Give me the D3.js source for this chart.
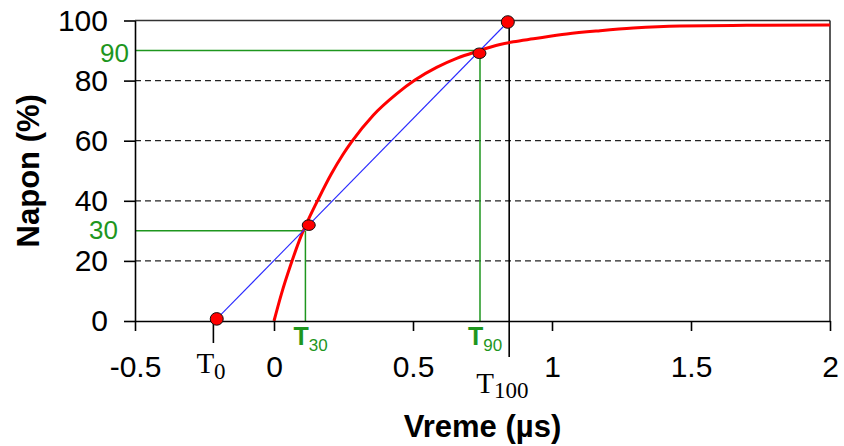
<!DOCTYPE html>
<html>
<head>
<meta charset="utf-8">
<script src="https://cdn.jsdelivr.net/npm/d3@7"></script>
<style>
  html, body { margin: 0; padding: 0; background: #fff; }
  svg { display: block; }
</style>
</head>
<body>
<script>
// Axis ticks
const xTicks = [-0.5, 0, 0.5, 1, 1.5, 2];
const yTicks = [0, 20, 40, 60, 80, 100];
const gridLevels = [20, 40, 60, 80];

// Voltage rise (%) over time (µs)
const curveT = [0, 0.026, 0.062, 0.098, 0.132, 0.158, 0.206, 0.248, 0.279, 0.357, 0.441, 0.507, 0.585, 0.657, 0.729, 0.813, 0.861, 0.933, 1.053, 1.173, 1.292, 1.46, 1.7, 2.0];
const curveV = [0, 8.8, 19.2, 28.4, 35.4, 40.3, 48.9, 55.4, 59.6, 68.5, 75.6, 80.2, 84.4, 87.4, 89.7, 92, 92.9, 93.9, 95.5, 96.6, 97.5, 98.2, 98.4, 98.5];

// Characteristic points (T0, T30, T90, T100)
const markerNames = ["T0", "T30", "T90", "T100"];
const markerT = [-0.206, 0.125, 0.739, 0.841];
const markerV = [0.7, 31.9, 89.1, 99.5];

// Reference levels and the times they are reached
const levelValues = [30, 90];
const levelTimes = [0.113, 0.741];
const levelLabels = ["30", "90"];
const levelSubs = ["30", "90"];

// Virtual origin and 100% time
const t0Time = -0.218;
const t100Time = 0.846;

const W = 844, H = 446;
const svg = d3.select("body").append("svg").attr("width", W).attr("height", H);

const x = d3.scaleLinear().domain([-0.5, 2]).range([135, 830]);
const y = d3.scaleLinear().domain([0, 100]).range([321, 20.5]);

const sans = "'Liberation Sans', Arial, Helvetica, sans-serif";
const serif = "'Liberation Serif', 'Times New Roman', serif";
const green = "#1e961e";

// dashed grid
svg.append("g").selectAll("line").data(gridLevels).join("line")
  .attr("x1", x(-0.5)).attr("x2", x(2))
  .attr("y1", d => y(d)).attr("y2", d => y(d))
  .attr("stroke", "#222").attr("stroke-width", 1.3)
  .attr("stroke-dasharray", "6,4");

// plot frame (top and right)
svg.append("line").attr("x1", x(-0.5)).attr("x2", x(2)).attr("y1", y(100)).attr("y2", y(100))
  .attr("stroke", "#333").attr("stroke-width", 1.5);
svg.append("line").attr("x1", x(2)).attr("x2", x(2)).attr("y1", y(100)).attr("y2", y(0))
  .attr("stroke", "#222").attr("stroke-width", 1.5);

// green level guides
const lv = svg.append("g");
levelValues.forEach((v, i) => {
  lv.append("line").attr("x1", x(-0.5)).attr("x2", x(levelTimes[i]))
    .attr("y1", y(v)).attr("y2", y(v))
    .attr("stroke", green).attr("stroke-width", 1.5);
  lv.append("line").attr("x1", x(levelTimes[i])).attr("x2", x(levelTimes[i]))
    .attr("y1", y(v)).attr("y2", y(0))
    .attr("stroke", green).attr("stroke-width", 1.5);
});

// T100 vertical marker
svg.append("line").attr("x1", x(t100Time)).attr("x2", x(t100Time))
  .attr("y1", y(100)).attr("y2", 357)
  .attr("stroke", "#000").attr("stroke-width", 1.6);

// T0 tick below axis
svg.append("line").attr("x1", x(t0Time)).attr("x2", x(t0Time))
  .attr("y1", y(0)).attr("y2", 343)
  .attr("stroke", "#000").attr("stroke-width", 1.6);

// rise curve
const curveData = curveT.map((t, i) => [t, curveV[i]]);
svg.append("path").datum(curveData)
  .attr("d", d3.line().x(d => x(d[0])).y(d => y(d[1])).curve(d3.curveMonotoneX))
  .attr("fill", "none").attr("stroke", "#ff0000").attr("stroke-width", 3);

// straight line through T0 and T100
svg.append("line")
  .attr("x1", x(markerT[0])).attr("y1", y(markerV[0]))
  .attr("x2", x(markerT[3])).attr("y2", y(markerV[3]))
  .attr("stroke", "#2a2aff").attr("stroke-width", 1.1);

// axes
const xAxis = svg.append("g").attr("transform", `translate(0,${y(0)})`)
  .call(d3.axisBottom(x).tickValues(xTicks).tickSize(10).tickSizeOuter(0).tickPadding(25)
    .tickFormat(d => String(d)));
const yAxis = svg.append("g").attr("transform", `translate(${x(-0.5)},0)`)
  .call(d3.axisLeft(y).tickValues(yTicks).tickSize(11).tickSizeOuter(0).tickPadding(16));
[xAxis, yAxis].forEach(g => {
  g.selectAll("path.domain").attr("stroke", "#000").attr("stroke-width", 1.6);
  g.selectAll(".tick line").attr("stroke", "#000").attr("stroke-width", 1.6);
  g.selectAll("text").attr("font-family", sans).attr("font-size", 30).attr("fill", "#000");
});

// markers
svg.append("g").selectAll("ellipse").data(markerNames).join("ellipse")
  .attr("cx", (d, i) => x(markerT[i])).attr("cy", (d, i) => y(markerV[i]))
  .attr("rx", 6.5).attr("ry", (d, i) => (i === 0 || i === 3) ? 6.3 : 5.3)
  .attr("fill", "#ff0000").attr("stroke", "#111").attr("stroke-width", 1);

// green level labels on the y axis
svg.append("text").attr("x", x(-0.5) - 6).attr("y", y(90) + 2.5).attr("dy", "0.35em")
  .attr("text-anchor", "end").attr("font-family", sans).attr("font-size", 26).attr("fill", green)
  .text(levelLabels[1]);
svg.append("text").attr("x", x(-0.5) - 17).attr("y", y(30) - 1.3).attr("dy", "0.35em")
  .attr("text-anchor", "end").attr("font-family", sans).attr("font-size", 26).attr("fill", green)
  .text(levelLabels[0]);

// T30 / T90 labels
levelTimes.forEach((t, i) => {
  const tx = svg.append("text").attr("x", x(t) - 12).attr("y", 345)
    .attr("font-family", sans).attr("fill", green);
  tx.append("tspan").attr("font-size", 25).attr("font-weight", "bold").text("T");
  tx.append("tspan").attr("font-size", 17).attr("dy", 6).text(levelSubs[i]);
});

// T0 and T100 labels
const t0Label = svg.append("text").attr("x", x(t0Time) - 17).attr("y", 373)
  .attr("font-family", serif).attr("fill", "#000");
t0Label.append("tspan").attr("font-size", 29).text("T");
t0Label.append("tspan").attr("font-size", 23).attr("dy", 6).text("0");

const t100Label = svg.append("text").attr("x", x(t100Time) - 33).attr("y", 393)
  .attr("font-family", serif).attr("fill", "#000");
t100Label.append("tspan").attr("font-size", 29).text("T");
t100Label.append("tspan").attr("font-size", 23).attr("dy", 5).text("100");

// axis titles
svg.append("text").attr("x", (x(-0.5) + x(2)) / 2).attr("y", 437)
  .attr("text-anchor", "middle").attr("font-family", sans).attr("font-weight", "bold")
  .attr("font-size", 31).attr("fill", "#000").text("Vreme (µs)");
svg.append("text").attr("transform", `translate(39,${(y(0) + y(100)) / 2}) rotate(-90)`)
  .attr("text-anchor", "middle").attr("font-family", sans).attr("font-weight", "bold")
  .attr("font-size", 31).attr("fill", "#000").text("Napon (%)");
</script>
</body>
</html>
